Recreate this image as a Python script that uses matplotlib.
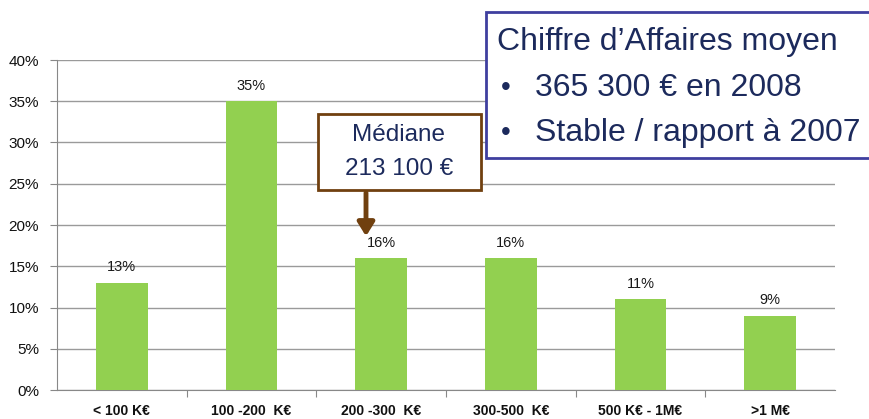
import matplotlib
matplotlib.use("Agg")
import matplotlib.pyplot as plt
from matplotlib.patches import Rectangle

categories = ["< 100 K€", "100 -200  K€", "200 -300  K€", "300-500  K€", "500 K€ - 1M€", ">1 M€"]
values = [13, 35, 16, 16, 11, 9]
y_ticks = [0, 5, 10, 15, 20, 25, 30, 35, 40]

plt.rcParams['font.family'] = ['Liberation Sans', 'DejaVu Sans']

fig = plt.figure(figsize=(8.7, 4.19), dpi=100)
ax = fig.add_axes([57/870, 1-390/419, (835-57)/870, (390-60)/419])

x = list(range(len(categories)))
ax.bar(x, values, width=0.4, color="#92d050", zorder=3)
for xi, v in zip(x, values):
    ax.annotate(f"{v}%", (xi, v), xytext=(0, 6), textcoords="offset points",
                ha="center", va="bottom", fontsize=10.5, color="#1a1a1a")

ax.set_xlim(-0.5, len(categories) - 0.5)
ax.set_ylim(0, 40)
ax.set_yticks(y_ticks)
ax.set_yticklabels([f"{t}%" for t in y_ticks], fontsize=11, color="#111111")
ax.set_xticks([i + 0.5 for i in range(len(categories) - 1)], minor=False)
ax.set_xticklabels([])
ax.set_xticks(x, minor=True)
ax.set_xticklabels(categories, minor=True, fontsize=10, color="#111111", fontweight="bold")
ax.tick_params(axis="x", which="minor", length=0, pad=10)
ax.tick_params(axis="x", which="major", length=5, color="#888888", direction="out")
ax.tick_params(axis="y", length=5, color="#888888", pad=8)
ax.grid(axis="y", color="#9a9a9a", linewidth=1, zorder=0)
for s in ["top", "right"]:
    ax.spines[s].set_visible(False)
ax.spines["left"].set_color("#888888")
ax.spines["bottom"].set_color("#888888")

# Info box top-right
fig.patches.append(Rectangle((486/870, 1-158/419), (890-486)/870, (158-12)/419,
                             transform=fig.transFigure, facecolor="white",
                             edgecolor="#3f3f9f", linewidth=2, zorder=10))
navy = "#1c2a5c"
fig.text(497/870, 1-42/419, "Chiffre d’Affaires moyen", fontsize=23, color=navy,
         va="center", ha="left", zorder=11)
fig.text(501/870, 1-88/419, "•", fontsize=20, color=navy, va="center", ha="left", zorder=11)
fig.text(535/870, 1-88/419, "365 300 € en 2008", fontsize=23, color=navy,
         va="center", ha="left", zorder=11)
fig.text(501/870, 1-133/419, "•", fontsize=20, color=navy, va="center", ha="left", zorder=11)
fig.text(535/870, 1-133/419, "Stable / rapport à 2007", fontsize=23, color=navy,
         va="center", ha="left", zorder=11)

# Median box
brown = "#70400f"
fig.patches.append(Rectangle((318/870, 1-190/419), (481-318)/870, (190-114)/419,
                             transform=fig.transFigure, facecolor="white",
                             edgecolor=brown, linewidth=2, zorder=10))
fig.text(399/870, 1-135/419, "Médiane", fontsize=17.5, color=navy, ha="center", va="center", zorder=11)
fig.text(399/870, 1-169/419, "213 100 €", fontsize=17.5, color=navy, ha="center", va="center", zorder=11)
ax.annotate("", xy=(366/870, 1-239/419), xycoords="figure fraction",
            xytext=(366/870, 1-190/419), textcoords="figure fraction",
            arrowprops=dict(arrowstyle="-|>,head_width=0.5,head_length=0.8",
                            color=brown, linewidth=3.5), zorder=12)

fig.savefig("out.png", dpi=100)
